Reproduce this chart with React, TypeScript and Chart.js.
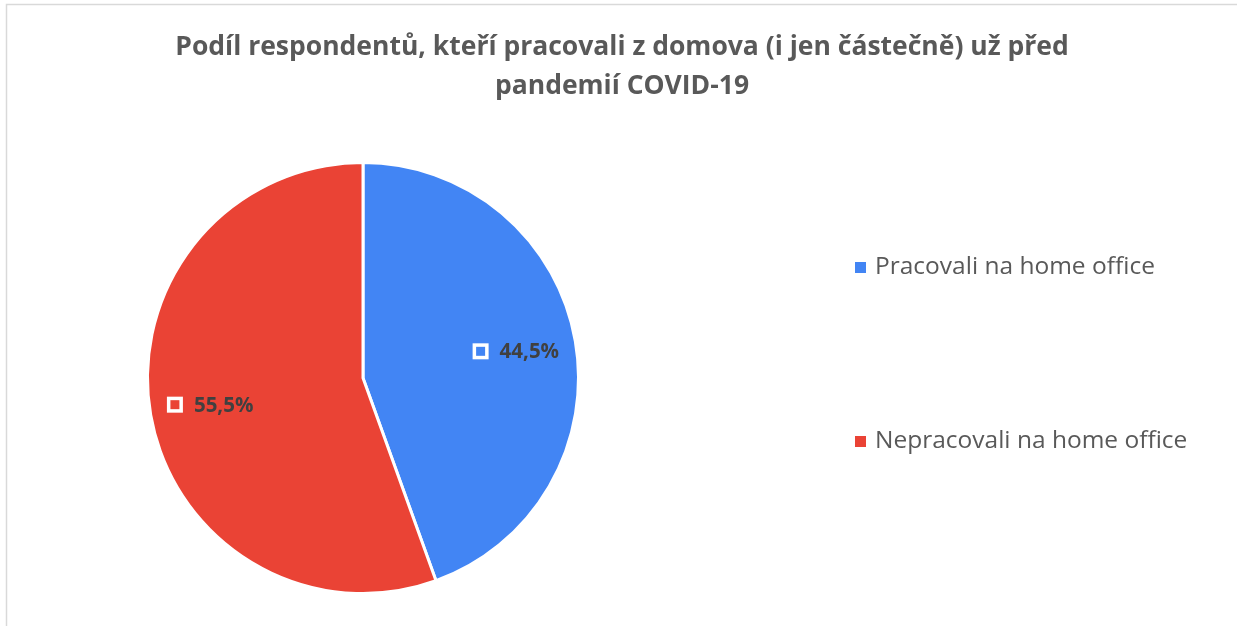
import React, { useEffect, useRef } from "react";
import { Chart, registerables } from "chart.js";

Chart.register(...registerables);

const titleLines = [
  "Podíl respondentů, kteří pracovali z domova (i jen částečně) už před",
  "pandemií COVID-19",
];
const categories = ["Pracovali na home office", "Nepracovali na home office"];
const values = [44.5, 55.5];
const colors = ["#4285F4", "#EA4335"];

const FONT = "'Open Sans', sans-serif";

const decorPlugin = {
  id: "decor",
  beforeDraw(chart: any) {
    const ctx = chart.ctx as CanvasRenderingContext2D;
    ctx.save();
    ctx.strokeStyle = "#d9d9d9";
    ctx.lineWidth = 1.5;
    ctx.strokeRect(6.5, 4.5, 1300, 700);
    ctx.fillStyle = "#595959";
    ctx.font = `bold 26.5px ${FONT}`;
    ctx.textAlign = "center";
    ctx.textBaseline = "middle";
    titleLines.forEach((line, i) => {
      ctx.fillText(line, 622, 47 + i * 39);
    });
    ctx.restore();
  },
  afterDatasetsDraw(chart: any) {
    const ctx = chart.ctx as CanvasRenderingContext2D;
    const meta = chart.getDatasetMeta(0);
    const data = chart.data.datasets[0].data as number[];
    ctx.save();
    ctx.font = `bold 20.5px ${FONT}`;
    ctx.textBaseline = "middle";
    ctx.textAlign = "left";
    meta.data.forEach((arc: any, i: number) => {
      const p = arc.getProps(["x", "y", "startAngle", "endAngle", "outerRadius"], true);
      const mid = (p.startAngle + p.endAngle) / 2;
      const r = p.outerRadius * 0.72;
      const cx = p.x + Math.cos(mid) * r;
      const cy = p.y + Math.sin(mid) * r;
      const text = data[i].toFixed(1).replace(".", ",") + "%";
      const tw = ctx.measureText(text).width;
      const box = 16;
      const gap = 11;
      const total = box + gap + tw;
      const x0 = cx - total / 2;
      ctx.strokeStyle = "#ffffff";
      ctx.lineWidth = 3.5;
      ctx.strokeRect(x0 + 1.75, cy - box / 2 + 1.75, box - 3.5, box - 3.5);
      ctx.fillStyle = "#404040";
      ctx.fillText(text, x0 + box + gap, cy + 1);
    });
    ctx.restore();
  },
  afterDraw(chart: any) {
    const ctx = chart.ctx as CanvasRenderingContext2D;
    const labels = chart.data.labels as string[];
    const bg = chart.data.datasets[0].backgroundColor as string[];
    ctx.save();
    ctx.font = `24.5px ${FONT}`;
    ctx.textBaseline = "middle";
    ctx.textAlign = "left";
    labels.forEach((label, i) => {
      const y = 267 + i * 174;
      ctx.fillStyle = bg[i];
      ctx.fillRect(855, y - 5, 11, 11);
      ctx.fillStyle = "#595959";
      ctx.fillText(label, 875, y);
    });
    ctx.restore();
  },
};

export default function App() {
  const ref = useRef<HTMLCanvasElement | null>(null);
  useEffect(() => {
    if (!ref.current) return;
    const chart = new Chart(ref.current, {
      type: "pie",
      data: {
        labels: categories,
        datasets: [
          {
            data: values,
            backgroundColor: colors,
            borderColor: "#ffffff",
            borderWidth: 3,
          },
        ],
      },
      options: {
        responsive: true,
        maintainAspectRatio: false,
        animation: false,
        layout: { padding: { top: 161, bottom: 31, left: 146, right: 657 } },
        plugins: {
          legend: { display: false },
          title: { display: false },
          tooltip: { enabled: false },
        },
      },
      plugins: [decorPlugin],
    });
    return () => chart.destroy();
  }, []);
  return (
    <div style={{ position: "fixed", left: 0, top: 0, width: 1237, height: 626, background: "#fff" }}>
      <canvas ref={ref} />
    </div>
  );
}
